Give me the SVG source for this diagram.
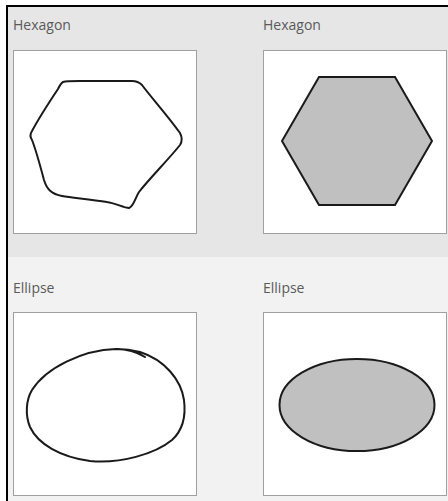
<svg xmlns="http://www.w3.org/2000/svg" width="448" height="501" viewBox="0 0 448 501">
<style>
.lbl{font-family:"Open Sans","Noto Sans",sans-serif;font-size:14px;fill:#5a5a5a}
.box{fill:#fff;stroke:#a0a0a0;stroke-width:1}
.ink{fill:none;stroke:#1a1a1a;stroke-width:2;stroke-linecap:round;stroke-linejoin:round}
.shape{fill:#c0c0c0;stroke:#1a1a1a;stroke-width:2}
</style>
<rect x="0" y="0" width="448" height="501" fill="#fff"/>
<rect x="7" y="6" width="441" height="251" fill="#e6e6e6"/>
<rect x="7" y="257" width="441" height="244" fill="#f2f2f2"/>
<line x1="6" y1="6" x2="448" y2="6" stroke="#000" stroke-width="2"/>
<line x1="7" y1="5" x2="7" y2="501" stroke="#000" stroke-width="2"/>

<g id="hexagon-sketch">
<text class="lbl" x="13" y="30">Hexagon</text>
<rect class="box" x="13.5" y="50.5" width="183" height="183"/>
<path class="ink" d="M63,82 C66,81 70,81 80,81 L132,81 C137,81 139,82 142,85 C150,96 168,116 180,133 C182,137 182,142 180,145 C168,160 150,178 139,192 C135,198 134,206 129,208 C124,208 115,203 107,202 C90,199 73,198 62,196 C52,194 47,190 44,180 C40,165 36,150 32,140 C30,137 30,134 32,131 C40,116 52,98 58,89 C60,85 61,83 63,82 Z"/>
</g>

<g id="hexagon-shape">
<text class="lbl" x="263" y="30">Hexagon</text>
<rect class="box" x="263.5" y="50.5" width="183" height="183"/>
<polygon class="shape" points="319,77 395,77 432,141 395,205 319,205 282,141"/>
</g>

<g id="ellipse-sketch">
<text class="lbl" x="13" y="293">Ellipse</text>
<rect class="box" x="13.5" y="312.5" width="183" height="183"/>
<path class="ink" d="M145,357 C137,352 128,349 116,349 C82,350 46,368 32,390 C26,400 25,415 30,427 C38,444 60,457 90,461 C120,464 155,454 172,440 C183,430 186,416 184,400 C181,380 165,360 140,352 C132,350 124,349 117,349"/>
</g>

<g id="ellipse-shape">
<text class="lbl" x="263" y="293">Ellipse</text>
<rect class="box" x="263.5" y="312.5" width="183" height="183"/>
<ellipse class="shape" cx="357" cy="405" rx="77.5" ry="46"/>
</g>
<g id="connectors"/>
</svg>
